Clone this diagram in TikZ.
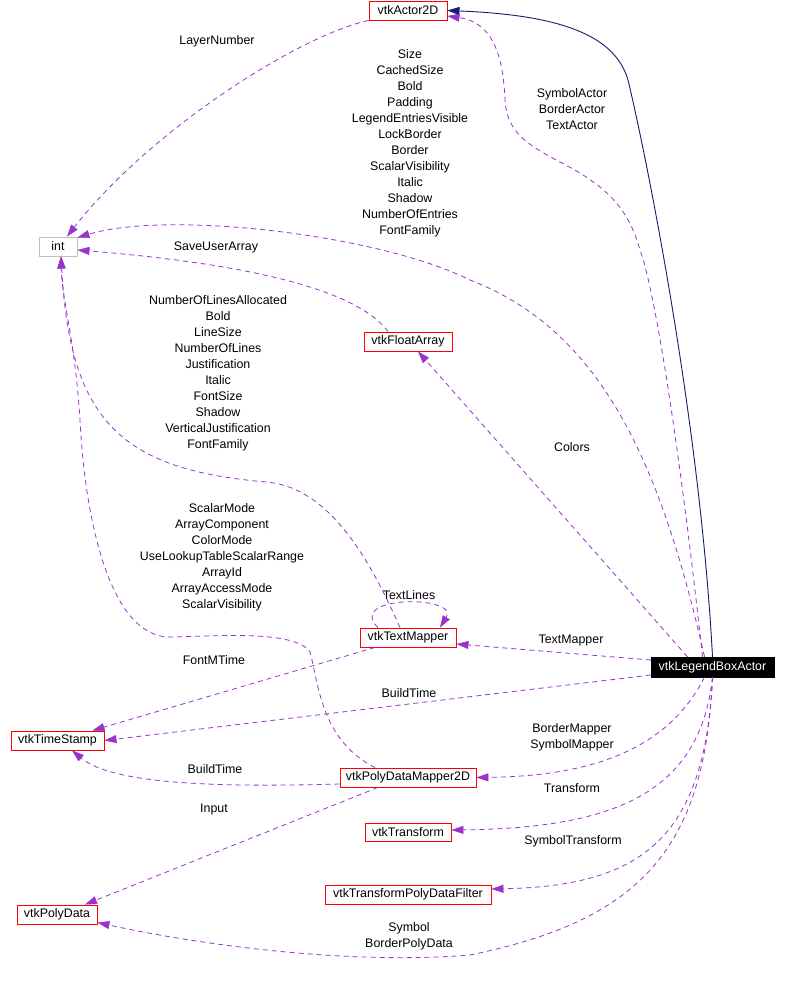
\documentclass[tikz,border=0pt]{standalone}
\usepackage{fontspec}
\setmainfont{Liberation Sans}
\usetikzlibrary{arrows.meta}
\definecolor{depc}{HTML}{9A32CD}
\definecolor{inhc}{HTML}{191970}
\definecolor{intc}{HTML}{BFBFBF}
\begin{document}
\begin{tikzpicture}[x=1pt,y=-1pt,
  font=\fontsize{12.4}{16}\selectfont,
  cls/.style={draw=red, line width=0.9pt, minimum height=19pt, inner sep=0pt, text=black},
  basecls/.style={draw=intc, line width=0.9pt, minimum height=19pt, inner sep=0pt, text=black},
  focus/.style={fill=black, draw=black, minimum height=20pt, inner sep=0pt, text=white},
  lbl/.style={align=center, inner sep=0pt, text=black, yshift=-1.5pt},
  dep/.style={depc, line width=0.8pt, dash pattern=on 5pt off 4pt,
    -{Triangle[length=12pt,width=8pt,fill=depc,line width=0.5pt]}},
  inh/.style={inhc, line width=0.9pt,
    -{Triangle[length=12pt,width=8pt,fill=inhc,line width=0.5pt]}}]
\fill[white] (0,0) rectangle (786,986);
\useasboundingbox (0,0) rectangle (786,986);

% nodes
\node[cls, minimum width=78pt] (a2d) at (408,10.5) {vtkActor2D};
\node[basecls, minimum width=38pt] (int) at (58,246.5) {int};
\node[cls, minimum width=88pt] (fa) at (408,341.5) {vtkFloatArray};
\node[cls, minimum width=96pt] (tm) at (408,637.5) {vtkTextMapper};
\node[focus, minimum width=123pt] (lba) at (712.5,667) {vtkLegendBoxActor};
\node[cls, minimum width=93pt] (ts) at (57.5,740.5) {vtkTimeStamp};
\node[cls, minimum width=136pt] (pdm) at (408,777.5) {vtkPolyDataMapper2D};
\node[cls, minimum width=86pt, minimum height=18pt] (tr) at (408,832) {vtkTransform};
\node[cls, minimum width=166pt] (tpdf) at (408,894.5) {vtkTransformPolyDataFilter};
\node[cls, minimum width=80pt] (pd) at (57,914.5) {vtkPolyData};

% labels
\node[lbl] (lLayer) at (217,40) {LayerNumber};
\node[lbl] (lSize) at (410,142) {Size\\CachedSize\\Bold\\Padding\\LegendEntriesVisible\\LockBorder\\Border\\ScalarVisibility\\Italic\\Shadow\\NumberOfEntries\\FontFamily};
\node[lbl] (lActors) at (572,108) {SymbolActor\\BorderActor\\TextActor};
\node[lbl] (lSave) at (216,246) {SaveUserArray};
\node[lbl] (lTM) at (218,372) {NumberOfLinesAllocated\\Bold\\LineSize\\NumberOfLines\\Justification\\Italic\\FontSize\\Shadow\\VerticalJustification\\FontFamily};
\node[lbl] (lColors) at (572,446) {Colors};
\node[lbl] (lPDM) at (222,556) {ScalarMode\\ArrayComponent\\ColorMode\\UseLookupTableScalarRange\\ArrayId\\ArrayAccessMode\\ScalarVisibility};
\node[lbl] (lLines) at (409,594) {TextLines};
\node[lbl] (lTMap) at (571,639) {TextMapper};
\node[lbl] (lFont) at (214,659) {FontMTime};
\node[lbl] (lBuild1) at (409,692) {BuildTime};
\node[lbl] (lMappers) at (572,736) {BorderMapper\\SymbolMapper};
\node[lbl] (lBuild2) at (215,768) {BuildTime};
\node[lbl] (lTrans) at (572,787) {Transform};
\node[lbl] (lInput) at (214,808) {Input};
\node[lbl] (lSymT) at (573,840) {SymbolTransform};
\node[lbl] (lSym) at (409,935) {Symbol\\BorderPolyData};

% inheritance
\draw[inh] (lba.north) .. controls (700,420) and (645,150) .. (628,80)
  .. controls (615,35) and (560,15) .. (a2d.east);

% dependencies
\draw[dep] ([xshift=-10pt]lba.north) .. controls (680,450) and (655,290) .. (640,250)
  .. controls (630,215) and (615,195) .. (580,173)
  .. controls (540,150) and (507,140) .. (505,100)
  .. controls (503,50) and (490,22) .. ([yshift=-5.5pt]a2d.east);
\draw[dep] (a2d.south west) .. controls (300,35) and (150,130) .. ([xshift=9pt]int.north);
\draw[dep] ([xshift=-8pt]lba.north) .. controls (660,460) and (600,330) .. (470,280)
  .. controls (380,235) and (170,210) .. ([yshift=-1pt]int.north east);
\draw[dep] ([xshift=-20pt]fa.north) .. controls (350,280) and (200,260) .. ([yshift=-3.5pt]int.east);
\draw[dep] ([xshift=-25pt]lba.north) -- ([xshift=10pt]fa.south);
\draw[dep] ([xshift=-8pt]tm.north) .. controls (370,560) and (330,488) .. (267,482)
  .. controls (120,470) and (70,420) .. ([xshift=3pt]int.south);
\draw[dep] ([xshift=-30pt]tm.north) .. controls (345,595) and (460,595) .. ([xshift=32pt]tm.north);
\draw[dep] ([yshift=7pt]lba.west) -- ([yshift=-6.5pt]tm.east);
\draw[dep] ([xshift=-33pt]tm.south) -- ([xshift=35pt]ts.north);
\draw[dep] ([yshift=-8pt]lba.west) -- (ts.east);
\draw[dep] ([xshift=-33pt]pdm.north) .. controls (320,740) and (318,680) .. (310,652)
  .. controls (295,630) and (220,636) .. (170,637)
  .. controls (110,637) and (85,520) .. (80,420)
  .. controls (75,340) and (62,300) .. ([xshift=3pt]int.south);
\draw[dep] ([yshift=-6.5pt]pdm.west) .. controls (200,788) and (110,782) .. ([xshift=14.5pt]ts.south);
\draw[dep] ([xshift=-8pt]lba.south) .. controls (670,745) and (600,776) .. (pdm.east);
\draw[dep] ([xshift=-30pt]pdm.south) -- ([xshift=28pt]pd.north);
\draw[dep] (lba.south) .. controls (700,790) and (620,828) .. ([yshift=2pt]tr.east);
\draw[dep] (lba.south) .. controls (705,840) and (640,886) .. ([yshift=5.5pt]tpdf.east);
\draw[dep] (lba.south) .. controls (705,850) and (640,920) .. (470,955)
  .. controls (350,965) and (200,945) .. ([yshift=-8pt]pd.east);
\end{tikzpicture}
\end{document}
